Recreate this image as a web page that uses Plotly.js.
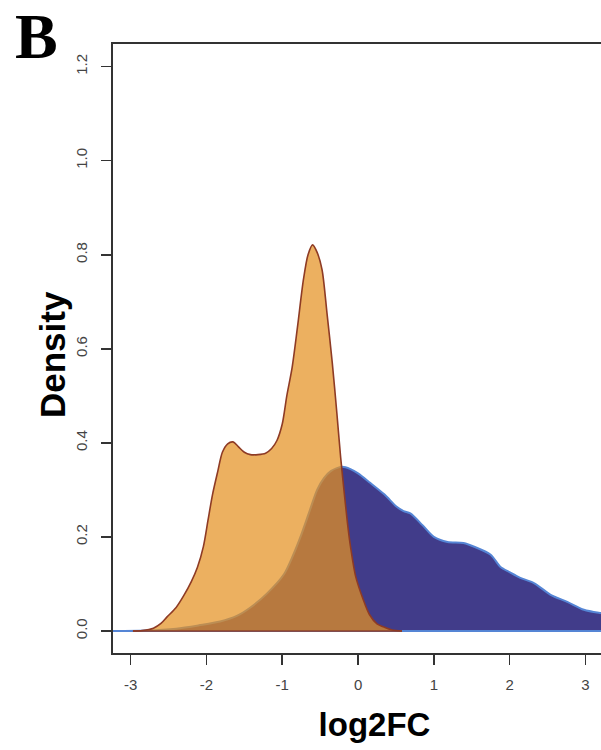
<!DOCTYPE html>
<html>
<head>
<meta charset="utf-8">
<script src="https://cdn.plot.ly/plotly-3.0.1.min.js"></script>
<style>
  html, body { margin: 0; padding: 0; background: #ffffff; overflow: hidden; width: 601px; height: 750px; }
  #chart { width: 640px; height: 750px; }
</style>
</head>
<body>
<div id="chart"></div>
<script>
// Density of log2FC, group A (orange)
var orangeX = [-2.97, -2.85, -2.70, -2.60, -2.52, -2.40, -2.30, -2.20, -2.12, -2.04, -1.98, -1.92, -1.85, -1.79, -1.72, -1.65, -1.58, -1.50, -1.42, -1.32, -1.22, -1.14, -1.07, -1.00, -0.94, -0.87, -0.80, -0.72, -0.66, -0.60, -0.54, -0.475, -0.41, -0.34, -0.28, -0.23, -0.19, -0.14, -0.10, -0.03, 0.07, 0.15, 0.25, 0.33, 0.45, 0.58];
var orangeY = [0.000, 0.001, 0.006, 0.016, 0.030, 0.050, 0.075, 0.105, 0.135, 0.180, 0.235, 0.290, 0.340, 0.380, 0.398, 0.402, 0.392, 0.380, 0.375, 0.375, 0.378, 0.388, 0.405, 0.440, 0.500, 0.560, 0.645, 0.748, 0.800, 0.821, 0.805, 0.768, 0.676, 0.570, 0.464, 0.370, 0.306, 0.230, 0.180, 0.115, 0.066, 0.035, 0.015, 0.009, 0.002, 0.000];

// Density of log2FC, group B (navy)
var blueX = [-3.233, -2.80, -2.40, -2.10, -1.82, -1.60, -1.42, -1.20, -0.98, -0.86, -0.76, -0.65, -0.54, -0.45, -0.36, -0.21, -0.10, 0.00, 0.16, 0.35, 0.51, 0.60, 0.69, 0.85, 1.00, 1.18, 1.39, 1.55, 1.75, 1.88, 2.00, 2.14, 2.32, 2.54, 2.76, 2.98, 3.20, 3.40];
var blueY = [0.000, 0.001, 0.005, 0.012, 0.020, 0.032, 0.050, 0.080, 0.120, 0.160, 0.200, 0.250, 0.300, 0.325, 0.340, 0.349, 0.344, 0.335, 0.315, 0.290, 0.264, 0.255, 0.250, 0.225, 0.200, 0.189, 0.187, 0.178, 0.162, 0.136, 0.125, 0.113, 0.102, 0.077, 0.062, 0.045, 0.038, 0.034];

// Axis ticks
var xTickVals = [-3, -2, -1, 0, 1, 2, 3];
var xTickText = ["-3", "-2", "-1", "0", "1", "2", "3"];
var yTickVals = [0, 0.2, 0.4, 0.6, 0.8, 1.0, 1.2];
var yTickText = ["0.0", "0.2", "0.4", "0.6", "0.8", "1.0", "1.2"];

var panelLabel = "B";
var xTitle = "log2FC";
var yTitle = "Density";

var blueFill = '#413C8A', blueLine = '#5585D5';
var orangeFill = 'rgba(228,146,35,0.72)', orangeLine = '#8E3B25';

var traces = [
  { x: blueX, y: blueY, type: 'scatter', mode: 'lines', fill: 'tozeroy', fillcolor: blueFill,
    line: { color: blueLine, width: 2, shape: 'spline', smoothing: 0.8 }, hoverinfo: 'skip', showlegend: false },
  { x: [blueX[0], blueX[blueX.length - 1]], y: [0, 0], type: 'scatter', mode: 'lines',
    line: { color: blueLine, width: 2 }, hoverinfo: 'skip', showlegend: false },
  { x: orangeX, y: orangeY, type: 'scatter', mode: 'lines', fill: 'tozeroy', fillcolor: orangeFill,
    line: { color: orangeLine, width: 1.6, shape: 'spline', smoothing: 0.8 }, hoverinfo: 'skip', showlegend: false },
  { x: [orangeX[0], orangeX[orangeX.length - 1]], y: [0, 0], type: 'scatter', mode: 'lines',
    line: { color: orangeLine, width: 1.6 }, hoverinfo: 'skip', showlegend: false }
];

var tickFont = { family: 'Liberation Sans, Arial, sans-serif', size: 15, color: '#444' };
var titleFont = { family: 'Liberation Sans, Arial, sans-serif', size: 33, color: '#000', weight: 'bold' };
var yTitleFont = { family: 'Liberation Sans, Arial, sans-serif', size: 35, color: '#000', weight: 'bold' };

var plotW = 523, plotH = 609;

var layout = {
  width: 640, height: 750,
  margin: { l: 113, r: 4, t: 44, b: 97, pad: 0 },
  paper_bgcolor: '#ffffff', plot_bgcolor: '#ffffff',
  showlegend: false,
  xaxis: {
    range: [-3.233, 3.667], tickmode: 'array', tickvals: xTickVals, ticktext: xTickText,
    ticks: 'outside', ticklen: 10, tickwidth: 1.6, tickcolor: '#333',
    showline: true, mirror: true, linecolor: '#333', linewidth: 1.8,
    showgrid: false, zeroline: false, tickfont: tickFont, ticklabelstandoff: 7,
    title: { text: xTitle, font: titleFont, standoff: 21 }
  },
  yaxis: {
    range: [-0.0468, 1.248], tickmode: 'array', tickvals: yTickVals, ticktext: yTickText,
    ticks: 'outside', ticklen: 10, tickwidth: 1.6, tickcolor: '#333',
    showline: true, mirror: true, linecolor: '#333', linewidth: 1.8,
    showgrid: false, zeroline: false, tickfont: tickFont, tickangle: -90, ticklabelstandoff: 8
  },
  annotations: [
    {
      text: yTitle, xref: 'paper', yref: 'paper', x: (53 - 113) / plotW, y: (653 - 355) / plotH,
      xanchor: 'center', yanchor: 'middle', textangle: -90, showarrow: false, font: yTitleFont
    },
    {
      text: panelLabel, xref: 'paper', yref: 'paper', x: -113 / plotW + 14 / plotW, y: 1 + 44 / plotH,
      xanchor: 'left', yanchor: 'top', showarrow: false, borderpad: 0,
      font: { family: 'Liberation Serif, Times New Roman, serif', size: 64, color: '#000', weight: 'bold' }
    }
  ]
};

Plotly.newPlot('chart', traces, layout, { displayModeBar: false, staticPlot: true });
</script>
</body>
</html>
